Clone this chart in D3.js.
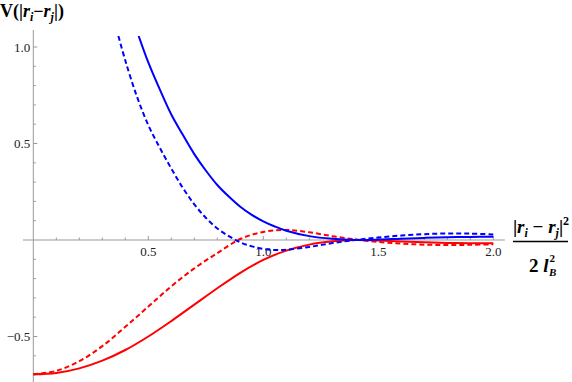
<!DOCTYPE html>
<html>
<head>
<meta charset="utf-8">
<script src="https://cdn.jsdelivr.net/npm/d3@7"></script>
<style>
  body { margin: 0; background: #fff; }
  svg { display: block; }
</style>
</head>
<body>
<div class="chart"></div>
<script>
var width = 572
var height = 382
var serif = '"Liberation Serif", "Times New Roman", Times, "DejaVu Serif", serif'

// series, [x, V]
var blueSolid = [[0.458, 1.057], [0.5, 0.92], [0.55, 0.78], [0.6, 0.65], [0.65, 0.545], [0.7, 0.445], [0.75, 0.36],
    [0.8, 0.285], [0.85, 0.225], [0.9, 0.172], [0.95, 0.13], [1.0, 0.097], [1.05, 0.07], [1.1, 0.048], [1.2, 0.02],
    [1.3, 0.006], [1.4, 0.0], [1.5, 0.002], [1.6, 0.007], [1.7, 0.011], [1.8, 0.014], [1.9, 0.016], [2.0, 0.017]]
var blueDashed = [[0.37, 1.057], [0.4, 0.93], [0.45, 0.745], [0.5, 0.595], [0.55, 0.478], [0.6, 0.37], [0.65, 0.27],
    [0.7, 0.185], [0.75, 0.115], [0.8, 0.06], [0.85, 0.02], [0.9, -0.012], [0.95, -0.033], [1.0, -0.046],
    [1.05, -0.052], [1.1, -0.05], [1.2, -0.036], [1.3, -0.016], [1.4, 0.0], [1.5, 0.013], [1.6, 0.023],
    [1.7, 0.03], [1.8, 0.034], [1.9, 0.033], [2.0, 0.029]]
var redSolid = [[0, -0.696], [0.1, -0.689], [0.2, -0.665], [0.3, -0.625], [0.4, -0.57], [0.5, -0.5], [0.6, -0.42],
    [0.7, -0.335], [0.8, -0.25], [0.9, -0.17], [1.0, -0.103], [1.1, -0.055], [1.2, -0.024], [1.3, -0.007],
    [1.4, 0.0], [1.5, -0.003], [1.6, -0.008], [1.7, -0.012], [1.8, -0.015], [1.9, -0.017], [2.0, -0.017]]
var redDashed = [[0, -0.696], [0.1, -0.678], [0.2, -0.628], [0.3, -0.55], [0.4, -0.45], [0.5, -0.345], [0.6, -0.24],
    [0.7, -0.147], [0.8, -0.068], [0.9, 0.005], [1.0, 0.042], [1.1, 0.052], [1.2, 0.04], [1.3, 0.02], [1.4, 0.003],
    [1.5, -0.01], [1.6, -0.019], [1.7, -0.024], [1.8, -0.026], [1.9, -0.025], [2.0, -0.022]]

var xMajor = [0.5, 1.0, 1.5, 2.0]
var yMajor = [-0.5, 0.5, 1.0]

var x = d3.scaleLinear().domain([0, 2]).range([33.3, 493.3])
var y = d3.scaleLinear().domain([0, 1]).range([240, 47])

var svg = d3.select('.chart').append('svg')
    .attr('width', width)
    .attr('height', height)
    .style('font-family', serif)

svg.append('clipPath').attr('id', 'clip')
    .append('rect')
    .attr('x', x(-0.05)).attr('y', y(1.057))
    .attr('width', x(2.05) - x(-0.05)).attr('height', y(-0.74) - y(1.057))

var axisColor = '#999'

// x axis
svg.append('line')
    .attr('x1', x(-0.045)).attr('x2', x(2.05))
    .attr('y1', y(0)).attr('y2', y(0))
    .attr('stroke', axisColor)

var xMinor = d3.range(1, 21).map(function (i) { return i / 10 })
svg.selectAll('.xtick').data(xMinor).enter().append('line')
    .attr('x1', function (d) { return x(d) }).attr('x2', function (d) { return x(d) })
    .attr('y1', y(0)).attr('y2', function (d) { return y(0) - (xMajor.indexOf(d) >= 0 ? 4 : 2.5) })
    .attr('stroke', axisColor)

svg.selectAll('.xlab').data(xMajor).enter().append('text')
    .attr('x', function (d) { return x(d) })
    .attr('y', y(0) + 16)
    .attr('text-anchor', 'middle')
    .attr('font-size', 13)
    .attr('fill', '#222')
    .text(function (d) { return d3.format('.1f')(d) })

// y axis
svg.append('line')
    .attr('x1', x(0)).attr('x2', x(0))
    .attr('y1', 30).attr('y2', height)
    .attr('stroke', axisColor)

var yMinor = d3.range(-7, 11).filter(function (i) { return i != 0 }).map(function (i) { return i / 10 })
svg.selectAll('.ytick').data(yMinor).enter().append('line')
    .attr('x1', x(0)).attr('x2', function (d) { return x(0) + (yMajor.indexOf(d) >= 0 ? 4 : 2.5) })
    .attr('y1', function (d) { return y(d) }).attr('y2', function (d) { return y(d) })
    .attr('stroke', axisColor)

svg.selectAll('.ylab').data(yMajor).enter().append('text')
    .attr('x', x(0) - 3)
    .attr('y', function (d) { return y(d) + 4.5 })
    .attr('text-anchor', 'end')
    .attr('font-size', 13)
    .attr('fill', '#222')
    .text(function (d) { return d3.format('.1f')(d).replace('-', '\u2212') })

// curves
var line = d3.line()
    .x(function (d) { return x(d[0]) })
    .y(function (d) { return y(d[1]) })
    .curve(d3.curveCatmullRom.alpha(0.5))

var series = [
    { data: redSolid, color: '#ff0000', dash: null },
    { data: redDashed, color: '#ff0000', dash: '5,3' },
    { data: blueSolid, color: '#0000ff', dash: null },
    { data: blueDashed, color: '#0000ff', dash: '5,3' }
]

svg.append('g').attr('clip-path', 'url(#clip)')
    .selectAll('path').data(series).enter().append('path')
    .attr('d', function (d) { return line(d.data) })
    .attr('fill', 'none')
    .attr('stroke', function (d) { return d.color })
    .attr('stroke-width', 2)
    .attr('stroke-dasharray', function (d) { return d.dash })

// y label: V(|r_i - r_j|)
var ylab = svg.append('text')
    .attr('x', 0).attr('y', 17)
    .attr('font-weight', 'bold')
    .attr('font-size', 18)
ylab.append('tspan').text('V(|')
ylab.append('tspan').attr('font-style', 'italic').text('r')
ylab.append('tspan').attr('font-style', 'italic').attr('font-size', 12).attr('dy', 4).text('i')
ylab.append('tspan').attr('dy', -4).text('\u2212')
ylab.append('tspan').attr('font-style', 'italic').text('r')
ylab.append('tspan').attr('font-style', 'italic').attr('font-size', 12).attr('dy', 4).text('j')
ylab.append('tspan').attr('dy', -4).text('|)')

// x label: |r_i - r_j|^2 / 2 l_B^2
var num = svg.append('text')
    .attr('x', 541).attr('y', 233)
    .attr('text-anchor', 'middle')
    .attr('font-weight', 'bold')
    .attr('font-size', 19)
num.append('tspan').text('|')
num.append('tspan').attr('font-style', 'italic').text('r')
num.append('tspan').attr('font-style', 'italic').attr('font-size', 12).attr('dy', 4).text('i')
num.append('tspan').attr('dy', -4).text(' \u2212 ')
num.append('tspan').attr('font-style', 'italic').text('r')
num.append('tspan').attr('font-style', 'italic').attr('font-size', 12).attr('dy', 4).text('j')
num.append('tspan').attr('dy', -4).text('|')
num.append('tspan').attr('font-size', 12).attr('dy', -8).text('2')

svg.append('line')
    .attr('x1', 513).attr('x2', 568)
    .attr('y1', 241.5).attr('y2', 241.5)
    .attr('stroke', '#000').attr('stroke-width', 1.5)

var den = svg.append('text')
    .attr('x', 529).attr('y', 272)
    .attr('font-weight', 'bold')
    .attr('font-size', 19)
den.append('tspan').text('2 ')
den.append('tspan').attr('font-style', 'italic').text('l')
den.append('tspan').attr('font-size', 11).attr('dx', 1).attr('dy', -10).text('2')
den.append('tspan').attr('font-style', 'italic').attr('font-size', 11).attr('dx', -6).attr('dy', 14).text('B')
</script>
</body>
</html>
